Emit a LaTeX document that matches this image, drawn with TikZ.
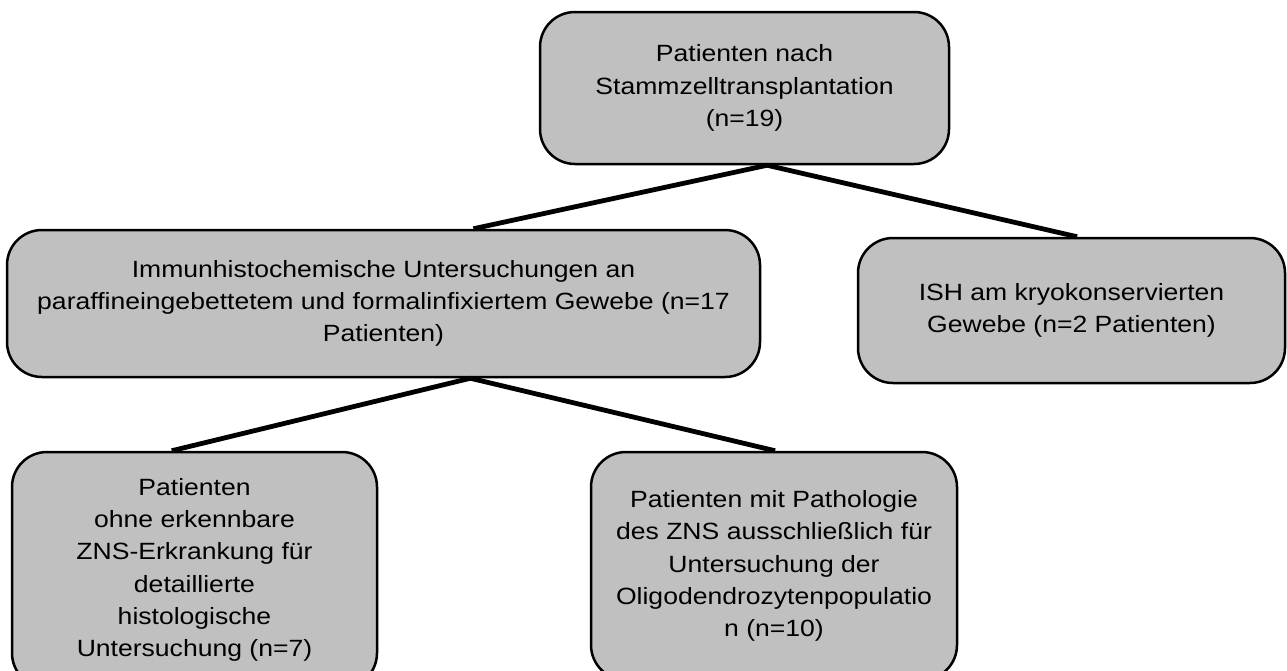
\documentclass[tikz,border=0pt]{standalone}
\usepackage{fontspec}
\setmainfont{Liberation Sans}[FakeStretch=1.13]
\usetikzlibrary{calc}
\definecolor{boxgray}{RGB}{192,192,192}
\begin{document}
\begin{tikzpicture}[x=1pt,y=-1pt,
  box/.style={draw=black, line width=2.5pt, fill=boxgray, rounded corners=35pt,
    align=center, inner sep=0pt, font=\fontsize{23.5}{32.3}\selectfont},
  conn/.style={line width=4.8pt}]
\useasboundingbox (0,0) rectangle (1287,670);
\clip (0,0) rectangle (1287,670);
\node[box, minimum width=409pt, minimum height=152pt] (top) at (744.5,88)
  {Patienten nach\\Stammzelltransplantation\\(n=19)};
\node[box, minimum width=753pt, minimum height=147pt] (ml) at (383.5,303.5)
  {Immunhistochemische Untersuchungen an\\paraffineingebettetem und formalinfixiertem Gewebe (n=17\\Patienten)};
\node[box, minimum width=427pt, minimum height=145pt] (rt) at (1071.5,310.5)
  {ISH am kryokonservierten\\Gewebe (n=2 Patienten)};
\node[box, minimum width=365pt, minimum height=236pt] (bl) at (194.5,570)
  {Patienten\\ohne erkennbare\\ZNS-Erkrankung für\\detaillierte\\histologische\\Untersuchung (n=7)};
\node[box, minimum width=366pt, minimum height=228pt] (bm) at (774,566)
  {Patienten mit Pathologie\\des ZNS ausschließlich für\\Untersuchung der\\Oligodendrozytenpopulatio\\n (n=10)};
\draw[conn] ($(top.south west)!0.555!(top.south east)$) -- ($(ml.north west)!0.619!(ml.north east)$);
\draw[conn] ($(top.south west)!0.555!(top.south east)$) -- ($(rt.north west)!0.513!(rt.north east)$);
\draw[conn] ($(ml.south west)!0.615!(ml.south east)$) -- ($(bl.north west)!0.438!(bl.north east)$);
\draw[conn] ($(ml.south west)!0.615!(ml.south east)$) -- ($(bm.north west)!0.503!(bm.north east)$);
\end{tikzpicture}
\end{document}
